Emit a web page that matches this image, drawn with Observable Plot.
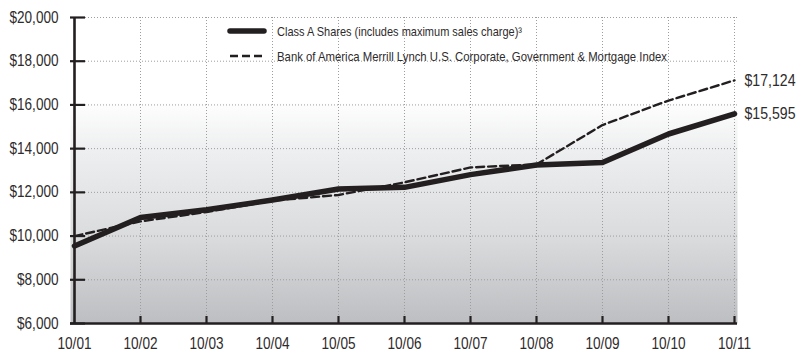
<!DOCTYPE html>
<html>
<head>
<meta charset="utf-8">
<script src="https://cdn.jsdelivr.net/npm/d3@7"></script>
<script src="https://cdn.jsdelivr.net/npm/@observablehq/plot@0.6"></script>
<style>
  html, body { margin: 0; padding: 0; background: #fff; }
  #chart { position: relative; width: 804px; height: 352px; }
  #chart svg { display: block; }
  #legend { position: absolute; left: 0; top: 0; pointer-events: none; }
</style>
</head>
<body>
<div id="chart"></div>
<script>
// Growth of a $10,000 investment, fiscal years ending October
const years = ["10/01", "10/02", "10/03", "10/04", "10/05", "10/06", "10/07", "10/08", "10/09", "10/10", "10/11"];
const classAValues = [9550, 10850, 11200, 11650, 12150, 12230, 12810, 13250, 13370, 14670, 15595];
const indexValues = [10000, 10670, 11100, 11620, 11880, 12460, 13140, 13280, 15080, 16200, 17124];
const yTicks = [6000, 8000, 10000, 12000, 14000, 16000, 18000, 20000];
const seriesNames = [
  "Class A Shares (includes maximum sales charge)\u00b3",
  "Bank of America Merrill Lynch U.S. Corporate, Government & Mortgage Index"
];

const classA = years.map((year, i) => ({year, value: classAValues[i]}));
const index = years.map((year, i) => ({year, value: indexValues[i]}));
const ends = [classA[classA.length - 1], index[index.length - 1]];

const ink = "#231f20";
const labelInk = "#2e2b2c";
const fontFamily = '"Liberation Sans", Arial, sans-serif';
const dollars = d => "$" + d3.format(",")(d);

// Soft grey wash that fades in toward the bottom of the plotting area
const gradientDefs = () => {
  const defs = d3.create("svg:defs");
  const g = defs.append("linearGradient")
    .attr("id", "plot-wash").attr("x1", 0).attr("y1", 0).attr("x2", 0).attr("y2", 1);
  [[0, "#ffffff"], [0.27, "#ffffff"], [0.43, "#eeeff0"], [0.72, "#dadbdd"], [1, "#bdbec1"]]
    .forEach(([o, c]) => g.append("stop").attr("offset", o).attr("stop-color", c));
  return defs.node();
};

const chart = Plot.plot({
  width: 804,
  height: 352,
  marginLeft: 70,
  marginRight: 67,
  marginTop: 17,
  marginBottom: 29,
  style: {fontFamily, fontSize: "16px", color: ink, background: "#fff"},
  x: {type: "point", domain: years, padding: 0},
  y: {domain: [6000, 20000]},
  marks: [
    gradientDefs,
    Plot.frame({fill: "url(#plot-wash)", stroke: "none"}),
    Plot.gridX(years.slice(1), {stroke: "#9d9d9d", strokeOpacity: 1, strokeDasharray: "1,2"}),
    Plot.gridY(yTicks.slice(1), {stroke: "#9d9d9d", strokeOpacity: 1, strokeDasharray: "1,2"}),
    // axis labels
    Plot.axisY(yTicks, {tickSize: 0, tickPadding: 12, tickFormat: dollars, fill: labelInk, fontSize: 16, label: null}),
    Plot.axisX(years, {tickSize: 0, tickPadding: 14, fill: labelInk, fontSize: 16, label: null}),
    // inward ticks
    Plot.axisY(yTicks, {tickSize: 15, dx: 15, text: null, stroke: ink, strokeWidth: 2.2, label: null}),
    Plot.axisX(years.slice(1), {tickSize: 7, dy: -7, text: null, stroke: ink, strokeWidth: 2.2, label: null}),
    // axis lines
    Plot.ruleX([years[0]], {stroke: ink, strokeWidth: 2.6}),
    Plot.ruleY([6000], {stroke: ink, strokeWidth: 2.6}),
    // series
    Plot.line(index, {x: "year", y: "value", stroke: ink, strokeWidth: 2.4, strokeDasharray: "8,4"}),
    Plot.line(classA, {x: "year", y: "value", stroke: ink, strokeWidth: 5.5, strokeLinejoin: "round"}),
    // closing values
    Plot.text(ends, {x: "year", y: "value", text: d => dollars(d.value), dx: 10, textAnchor: "start", fill: labelInk, fontSize: 16.5})
  ]
});

const host = document.getElementById("chart");
host.appendChild(chart);

// Narrow each group of labels to a condensed set width
function condense(selector, refText, targetWidth) {
  const nodes = Array.from(chart.querySelectorAll(selector));
  const ref = nodes.find(n => n.textContent === refText) || nodes[0];
  if (!ref) return;
  const k = targetWidth / ref.getComputedTextLength();
  nodes.forEach(n => {
    n.setAttribute("textLength", (n.getComputedTextLength() * k).toFixed(2));
    n.setAttribute("lengthAdjust", "spacingAndGlyphs");
  });
}
condense('g[aria-label="y-axis tick label"] text', "$20,000", 49);
condense('g[aria-label="x-axis tick label"] text', "10/01", 34);
condense('g[aria-label="text"] text', "$17,124", 51);

// Legend drawn on top of the plotting area
const legend = d3.select(host).append("svg")
  .attr("id", "legend").attr("width", 804).attr("height", 352)
  .style("font-family", fontFamily);
const rows = [
  {name: seriesNames[0], width: 5.5, dash: null, y: 31, len: 245},
  {name: seriesNames[1], width: 2.6, dash: "8,4", y: 56, len: 390}
];
rows.forEach(r => {
  legend.append("line")
    .attr("x1", 230).attr("x2", 264).attr("y1", r.y).attr("y2", r.y)
    .attr("stroke", ink).attr("stroke-width", r.width)
    .attr("stroke-linecap", r.dash ? "butt" : "round")
    .attr("stroke-dasharray", r.dash);
  legend.append("text")
    .attr("x", 277).attr("y", r.y + 4.7)
    .attr("fill", labelInk).attr("font-size", 13.5)
    .attr("textLength", r.len).attr("lengthAdjust", "spacingAndGlyphs")
    .text(r.name);
});
</script>
</body>
</html>
